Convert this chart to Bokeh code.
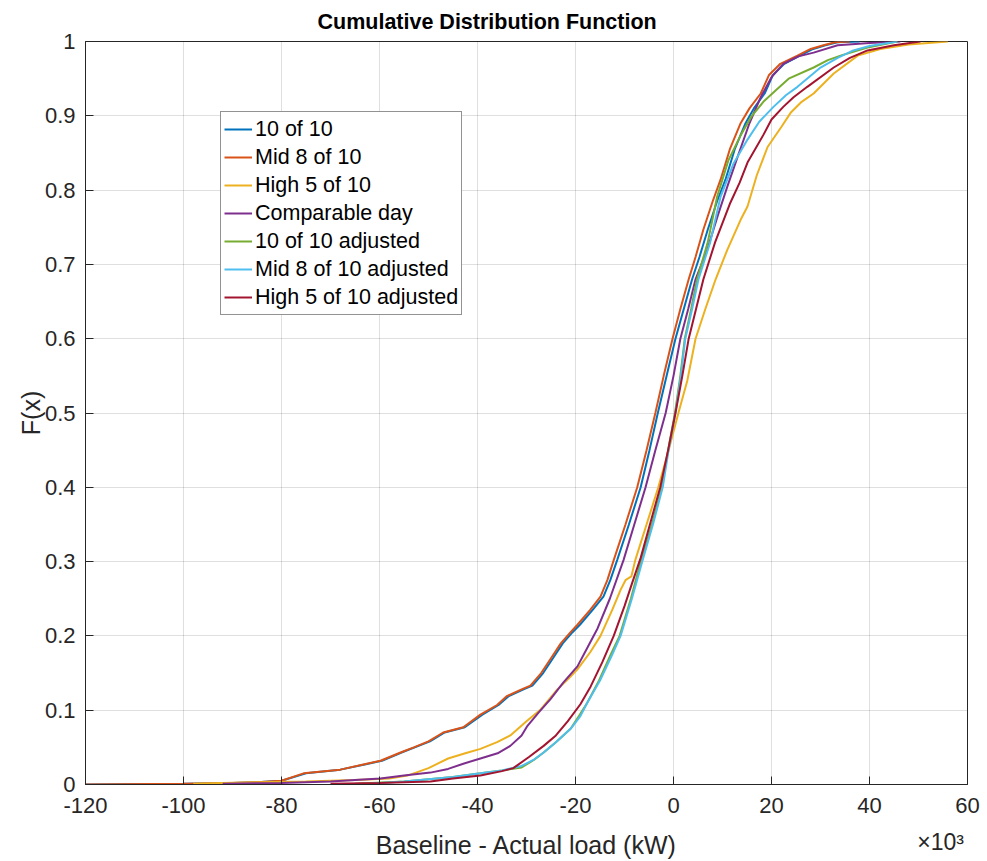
from bokeh.plotting import figure
from bokeh.models import (Range1d, Legend, LegendItem, NumeralTickFormatter,
                          FixedTicker, ColumnDataSource, LinearAxis)
from bokeh.embed import file_html
from bokeh.resources import INLINE

# ---- data (x in units of 10^3 kW) ----
x_10of10 = [-120, -100, -90, -85, -80, -75, -68, -63, -59.5, -55.5, -52.8, -49.7, -46.7, -42.6, -39,
            -35.7, -33.6, -30.6, -28.8, -26.6, -24.6, -22.6, -20.6, -19.1, -16.5, -14.3, -12.9, -11.5,
            -9.1, -6.7, -4.9, -3.2, -1.4, 0.4, 2.1, 3.8, 5.3, 7, 8.9, 10.6, 12.5, 14.7, 16.4, 18.6,
            20.3, 22.6, 25.8, 28.5, 31, 33.5, 38]
f_10of10 = [0, 0.001, 0.002, 0.003, 0.005, 0.015, 0.02, 0.027, 0.032, 0.043, 0.05, 0.058, 0.07, 0.077,
            0.094, 0.107, 0.119, 0.128, 0.133, 0.15, 0.17, 0.19, 0.205, 0.215, 0.235, 0.253, 0.275,
            0.302, 0.35, 0.40, 0.45, 0.5, 0.55, 0.6, 0.64, 0.68, 0.71, 0.747, 0.785, 0.814, 0.855,
            0.89, 0.91, 0.93, 0.955, 0.97, 0.981, 0.99, 0.995, 0.999, 1.0]

x_mid8 = [-120, -100, -90, -85, -80, -75.5, -68, -63.3, -59.8, -55.7, -53, -50, -47, -42.9, -39.4,
          -36, -34, -31, -29.2, -27, -25, -23, -21, -19.6, -17, -14.9, -13.5, -12.2, -9.8, -7.4,
          -5.5, -3.7, -2, -0.2, 1.4, 3.1, 4.5, 6.1, 8, 9.6, 11.5, 13.7, 15.5, 17.8, 19.5, 21.8,
          25.3, 28, 30.6, 33, 36]
f_mid8 = [0, 0.001, 0.002, 0.003, 0.005, 0.015, 0.02, 0.027, 0.032, 0.043, 0.05, 0.058, 0.07, 0.077,
          0.094, 0.107, 0.119, 0.128, 0.133, 0.15, 0.17, 0.19, 0.205, 0.215, 0.235, 0.253, 0.275,
          0.302, 0.35, 0.40, 0.45, 0.5, 0.55, 0.6, 0.64, 0.68, 0.71, 0.747, 0.785, 0.814, 0.855,
          0.89, 0.91, 0.93, 0.955, 0.97, 0.981, 0.99, 0.995, 0.999, 1.0]

x_high5 = [-98, -92, -85, -75, -65, -58, -54.3, -50, -46, -42.5, -39.4, -36, -33.3, -30, -27.1,
           -23.7, -21.5, -19.6, -17, -14.9, -12.5, -10.8, -9.8, -8.6, -7.8, -5.5, -3.1, -1, 1, 2.8,
           4.5, 6.5, 8.6, 11, 13.7, 15.1, 17, 19.2, 22, 23.9, 26, 28.6, 32.7, 37.6, 42.2, 48, 56]
f_high5 = [0.001, 0.002, 0.003, 0.004, 0.006, 0.008, 0.012, 0.022, 0.035, 0.042, 0.048, 0.057, 0.066,
           0.085, 0.101, 0.128, 0.142, 0.155, 0.178, 0.2, 0.235, 0.262, 0.275, 0.28, 0.302, 0.35,
           0.40, 0.45, 0.5, 0.543, 0.6, 0.64, 0.68, 0.72, 0.76, 0.778, 0.82, 0.858, 0.885, 0.904,
           0.918, 0.93, 0.957, 0.981, 0.99, 0.996, 1.0]

x_comp = [-92, -80, -70, -65, -59.8, -55, -49.6, -46, -42.9, -39.4, -35.9, -33.3, -31, -29.8, -27.5,
          -25.1, -22.5, -19.6, -17.5, -15.5, -13, -10.2, -8, -5.7, -3.7, -1.6, 0, 1.4, 3, 4.5, 6.9,
          9, 11, 13.1, 15.5, 17.8, 20, 22.4, 25.5, 28.6, 33.5, 40, 46.3]
f_comp = [0.001, 0.002, 0.004, 0.006, 0.008, 0.012, 0.016, 0.021, 0.028, 0.035, 0.042, 0.052, 0.066,
          0.079, 0.097, 0.115, 0.137, 0.159, 0.185, 0.21, 0.25, 0.302, 0.35, 0.40, 0.45, 0.5, 0.55,
          0.6, 0.64, 0.68, 0.72, 0.765, 0.805, 0.845, 0.89, 0.925, 0.952, 0.97, 0.98, 0.985, 0.995,
          0.998, 1.0]

x_10of10_adj = [-65, -55, -50, -45, -39.4, -35, -31, -28.5, -26.5, -24, -21, -19.3, -17.6, -15.2,
                -12.8, -11, -8.7, -6.6, -4.4, -2.4, -1.1, 0.3, 1.4, 2.3, 3.6, 4.8, 7, 8.9, 11.2, 13.8,
                16, 18.5, 21, 23.5, 28.6, 31.5, 34.1, 39.6, 45.7]
f_10of10_adj = [0.001, 0.004, 0.007, 0.01, 0.015, 0.019, 0.023, 0.033, 0.043, 0.057, 0.075, 0.092,
                0.11, 0.14, 0.175, 0.2, 0.25, 0.302, 0.35, 0.40, 0.45, 0.5, 0.55, 0.6, 0.64, 0.68,
                0.73, 0.791, 0.84, 0.875, 0.9, 0.92, 0.935, 0.95, 0.965, 0.975, 0.981, 0.992, 1.0]

x_mid8_adj = [-62, -55, -50, -45, -39.4, -35, -31, -28.6, -26.5, -24, -21, -19, -17.6, -15, -12.5,
              -10.8, -8.5, -6.3, -4.2, -2.2, -1, 0.4, 1.5, 2.4, 3.8, 5.1, 7.5, 9.6, 12.2, 15.1, 17.5,
              20.4, 23, 25.3, 30, 33.5, 36.7, 40, 45.7]
f_mid8_adj = [0.001, 0.004, 0.007, 0.01, 0.015, 0.019, 0.025, 0.033, 0.043, 0.057, 0.075, 0.092, 0.11,
              0.14, 0.175, 0.2, 0.25, 0.302, 0.35, 0.40, 0.45, 0.5, 0.55, 0.6, 0.64, 0.68, 0.73,
              0.791, 0.835, 0.868, 0.892, 0.912, 0.928, 0.939, 0.965, 0.978, 0.988, 0.994, 1.0]

x_high5_adj = [-70, -60, -55, -49.6, -45, -39.4, -35, -32.7, -29.5, -26.5, -24, -21.6, -19, -16.9,
               -14.5, -12.2, -10, -8.5, -6.7, -4.6, -2.7, -1.1, 0.4, 1.8, 3.1, 4.6, 6.1, 8.5, 11.6,
               13.5, 15.1, 18.4, 20, 22.4, 24.5, 27.3, 32.7, 36, 39.6, 45, 50.4]
f_high5_adj = [0.001, 0.002, 0.003, 0.004, 0.008, 0.012, 0.018, 0.022, 0.037, 0.052, 0.066, 0.085,
               0.108, 0.132, 0.165, 0.2, 0.24, 0.27, 0.305, 0.355, 0.40, 0.45, 0.5, 0.55, 0.6, 0.64,
               0.68, 0.73, 0.783, 0.81, 0.837, 0.875, 0.895, 0.912, 0.925, 0.939, 0.965, 0.978, 0.988,
               0.995, 1.0]

series_names = ["10 of 10", "Mid 8 of 10", "High 5 of 10", "Comparable day",
                "10 of 10 adjusted", "Mid 8 of 10 adjusted", "High 5 of 10 adjusted"]
series_x = [x_10of10, x_mid8, x_high5, x_comp, x_10of10_adj, x_mid8_adj, x_high5_adj]
series_f = [f_10of10, f_mid8, f_high5, f_comp, f_10of10_adj, f_mid8_adj, f_high5_adj]
colors = ["#0072BD", "#D95319", "#EDB120", "#7E2F8E", "#77AC30", "#4DBEEE", "#A2142F"]

x_ticks = [-120, -100, -80, -60, -40, -20, 0, 20, 40, 60]
x_tick_labels = ["-120", "-100", "-80", "-60", "-40", "-20", "0", "20", "40", "60"]
y_ticks = [0, 0.1, 0.2, 0.3, 0.4, 0.5, 0.6, 0.7, 0.8, 0.9, 1]
title_text = "Cumulative Distribution Function"
x_label_text = "Baseline - Actual load (kW)"
y_label_text = "F(x)"
x_multiplier_text = "×10³"
x_multiplier_at = 54.5   # where the exponent note sits along the x axis

FONT = "Liberation Sans"
DARK = "#262626"

p = figure(width=987, height=861, x_range=Range1d(-120, 60), y_range=Range1d(0, 1),
           output_backend="svg", toolbar_location=None,
           min_border_left=85, min_border_right=20, min_border_top=41, min_border_bottom=72,
           title=title_text)
p.background_fill_color = "white"
p.border_fill_color = "white"
p.outline_line_color = DARK
p.outline_line_width = 1
p.outline_line_alpha = 1

p.title.align = "left"
p.title.offset = 232
p.title.text_font = FONT
p.title.text_font_size = "21.5px"
p.title.text_font_style = "bold"
p.title.text_color = "#000000"
p.title.standoff = 15

xax = p.xaxis[0]
yax = p.yaxis[0]
for ax in (xax, yax):
    ax.axis_line_color = DARK
    ax.major_tick_line_color = DARK
    ax.major_tick_in = 8
    ax.major_tick_out = 0
    ax.minor_tick_line_color = None
    ax.major_label_text_font = FONT
    ax.major_label_text_font_size = "22px"
    ax.major_label_text_color = DARK
    ax.axis_label_text_font = FONT
    ax.axis_label_text_font_size = "25px"
    ax.axis_label_text_font_style = "normal"
    ax.axis_label_text_color = DARK

xax.ticker = FixedTicker(ticks=x_ticks)
xax.major_label_overrides = {t: s for t, s in zip(x_ticks, x_tick_labels)}
xax.major_label_standoff = 13
yax.ticker = FixedTicker(ticks=y_ticks)
yax.formatter = NumeralTickFormatter(format="0.[0]")
yax.axis_label = y_label_text
yax.major_label_standoff = 10
yax.axis_label_standoff = -3

for g in (p.xgrid[0], p.ygrid[0]):
    g.grid_line_color = DARK
    g.grid_line_alpha = 0.15
    g.grid_line_width = 1

# second (bare) x axis below: carries the x10^3 note and the axis title on one row
xax2 = LinearAxis(ticker=FixedTicker(ticks=[x_multiplier_at]),
                  major_label_overrides={x_multiplier_at: x_multiplier_text})
xax2.axis_line_color = None
xax2.major_tick_line_color = None
xax2.minor_tick_line_color = None
xax2.major_tick_in = 0
xax2.major_tick_out = 0
xax2.major_label_text_font = FONT
xax2.major_label_text_font_size = "23px"
xax2.major_label_text_color = DARK
xax2.major_label_standoff = 13
xax2.axis_label = x_label_text
xax2.axis_label_text_font = FONT
xax2.axis_label_text_font_size = "25px"
xax2.axis_label_text_font_style = "normal"
xax2.axis_label_text_color = DARK
xax2.axis_label_standoff = -27
p.add_layout(xax2, "below")

items = []
for name, xs, fs, c in zip(series_names, series_x, series_f, colors):
    src = ColumnDataSource(dict(x=xs, y=fs))
    r = p.line("x", "y", source=src, line_color=c, line_width=2)
    items.append(LegendItem(label=name, renderers=[r]))

legend = Legend(items=items, location=(135, 469))
legend.label_text_font = FONT
legend.label_text_font_size = "21.5px"
legend.label_text_color = "#000000"
legend.glyph_width = 28
legend.glyph_height = 28
legend.label_height = 28
legend.label_standoff = 3
legend.spacing = 0
legend.padding = 3
legend.margin = 0
legend.border_line_color = DARK
legend.border_line_width = 1
legend.background_fill_color = "white"
legend.background_fill_alpha = 1
p.add_layout(legend)

open("out.html", "w").write(file_html(p, INLINE))
